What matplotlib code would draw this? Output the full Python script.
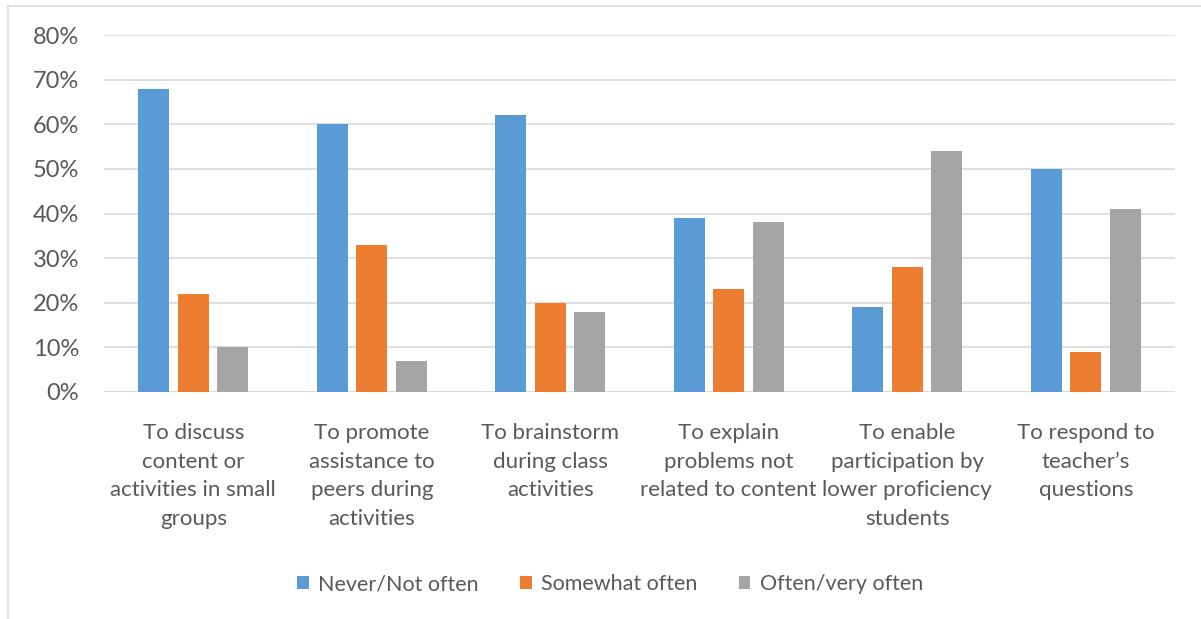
import numpy as np
import matplotlib.pyplot as plt
from matplotlib.lines import Line2D

plt.rcParams['font.family'] = ['Lato', 'DejaVu Sans']

# survey answers (% of respondents)
categories = ["To discuss\ncontent or\nactivities in small\ngroups",
              "To promote\nassistance to\npeers during\nactivities",
              "To brainstorm\nduring class\nactivities",
              "To explain\nproblems not\nrelated to content",
              "To enable\nparticipation by\nlower proficiency\nstudents",
              "To respond to\nteacher\u2019s\nquestions"]
never = [68, 60, 62, 39, 19, 50]
somewhat = [22, 33, 20, 23, 28, 9]
often = [10, 7, 18, 38, 54, 41]
series = ["Never/Not often", "Somewhat often", "Often/very often"]
colors = ["#5b9bd5", "#ed7d31", "#a5a5a5"]

txt = "#595959"
fig = plt.figure(figsize=(12.01, 6.19), dpi=100)
ax = fig.add_axes([104/1201, 1-392/619, 1071/1201, 357/619])

x = np.arange(len(categories))
w = 0.174
step = 0.221
for i, (vals, lab, c) in enumerate(zip([never, somewhat, often], series, colors)):
    ax.bar(x + (i-1)*step, vals, w, color=c, label=lab, zorder=3)

ax.set_xlim(-0.5, len(categories)-0.5)
ax.set_ylim(0, 80)
ax.set_yticks(range(0, 81, 10))
ax.set_yticklabels([f"{v}%" for v in range(0, 81, 10)], fontsize=17, color=txt)
ax.yaxis.grid(True, color="#d9d9d9", lw=1.2, zorder=0)
ax.tick_params(axis='y', length=0, pad=18)
ax.tick_params(axis='x', length=0, pad=22)
ax.set_xticks(x)
ax.set_xticklabels(categories, fontsize=16, color=txt, linespacing=1.56)
for s in ax.spines.values():
    s.set_visible(False)
ax.axhline(0, color="#d9d9d9", lw=1.2, zorder=2)

ax.legend(loc='center', bbox_to_anchor=(0.4725, -0.538), ncol=3, frameon=False,
          fontsize=15.5, labelcolor=txt, handlelength=0.55, handleheight=0.55,
          handletextpad=0.45, columnspacing=1.9)

# chart border (left and top edges)
fig.add_artist(Line2D([8/1201, 8/1201], [0, 1-6/619], color="#d9d9d9", lw=1.2))
fig.add_artist(Line2D([8/1201, 1], [1-6/619, 1-6/619], color="#d9d9d9", lw=1.2))

fig.savefig("out.png", dpi=100)
